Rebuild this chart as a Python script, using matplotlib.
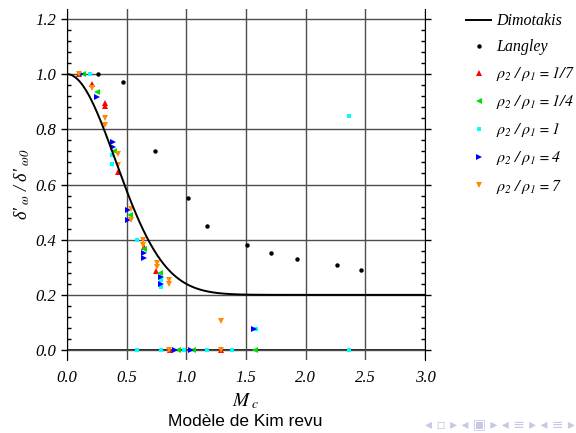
import numpy as np
import matplotlib
matplotlib.use('Agg')
import matplotlib.pyplot as plt
from matplotlib.ticker import MultipleLocator, FormatStrFormatter

plt.rcParams['font.family'] = ['Liberation Serif', 'DejaVu Serif']
plt.rcParams['font.style'] = 'italic'
plt.rcParams['mathtext.fontset'] = 'stix'

# Dimotakis correlation: 0.2 + 0.8 exp(-3 Mc^2)
dim_a = 0.2
dim_b = 0.8
dim_c = 3.0

# Langley data
lang_mc = [0.26, 0.47, 0.74, 1.01, 1.17, 1.51, 1.71, 1.93, 2.26, 2.46]
lang_d = [1.00, 0.97, 0.72, 0.55, 0.45, 0.38, 0.35, 0.33, 0.31, 0.29]

# rho2/rho1 = 1/7
r17_mc = [0.10, 0.21, 0.315, 0.32, 0.425, 0.645, 0.745, 0.863, 1.288]
r17_d = [1.00, 0.965, 0.885, 0.895, 0.646, 0.375, 0.288, 0.0, 0.0]

# rho2/rho1 = 1/4
r14_mc = [0.13, 0.254, 0.39, 0.528, 0.645, 0.78, 0.933, 1.06, 1.576]
r14_d = [1.00, 0.936, 0.72, 0.49, 0.368, 0.278, 0.0, 0.0, 0.0]

# rho2/rho1 = 1
r1_mc = [0.19, 0.38, 0.38, 0.584, 0.785, 0.785, 2.366, 1.58,
         0.584, 0.785, 0.98, 1.176, 1.38, 2.366]
r1_d = [1.00, 0.707, 0.676, 0.398, 0.254, 0.229, 0.849, 0.075,
        0.0, 0.0, 0.0, 0.0, 0.0, 0.0]

# rho2/rho1 = 4
r4_mc = [0.12, 0.254, 0.388, 0.383, 0.514, 0.514, 0.645, 0.645,
         0.785, 0.785, 1.57, 0.905, 1.037]
r4_d = [1.00, 0.916, 0.755, 0.737, 0.507, 0.473, 0.35, 0.332,
        0.266, 0.241, 0.075, 0.0, 0.0]

# rho2/rho1 = 7
r7_mc = [0.10, 0.21, 0.318, 0.318, 0.43, 0.425, 0.534, 0.534, 0.64, 0.64,
         0.752, 0.752, 0.858, 0.858, 1.29, 0.858, 1.288]
r7_d = [1.00, 0.95, 0.84, 0.815, 0.712, 0.67, 0.51, 0.471, 0.40, 0.38,
        0.314, 0.302, 0.254, 0.241, 0.106, 0.0, 0.0]

fig = plt.figure(figsize=(5.76, 4.33), dpi=100)
ax = fig.add_axes([0.1163, 0.1686, 0.6215, 0.8106])

x = np.linspace(0, 3, 400)
ax.plot(x, dim_a + dim_b * np.exp(-dim_c * x**2), color='black', lw=1.4,
        label='Dimotakis', zorder=4)
ax.plot(lang_mc, lang_d, 'o', color='black', ms=3.2, mew=0, label='Langley', zorder=5)
ax.plot(r17_mc, r17_d, '^', color='#ff0000', ms=4, mew=0,
        label=r'$\rho_2\;/\;\rho_1 = \mathit{1/7}$', zorder=3)
ax.plot(r14_mc, r14_d, '<', color='#00e000', ms=4, mew=0,
        label=r'$\rho_2\;/\;\rho_1 = \mathit{1/4}$', zorder=3)
ax.plot(r1_mc, r1_d, 's', color='#00ffff', ms=3.5, mew=0,
        label=r'$\rho_2\;/\;\rho_1 = \mathit{1}$', zorder=3)
ax.plot(r4_mc, r4_d, '>', color='#0000ff', ms=4, mew=0,
        label=r'$\rho_2\;/\;\rho_1 = \mathit{4}$', zorder=3)
ax.plot(r7_mc, r7_d, 'v', color='#ff8c00', ms=4, mew=0,
        label=r'$\rho_2\;/\;\rho_1 = \mathit{7}$', zorder=3)

ax.set_xlim(0, 3.0)
ax.set_ylim(-0.036, 1.236)
ax.xaxis.set_major_locator(MultipleLocator(0.5))
ax.yaxis.set_minor_locator(MultipleLocator(0.04))
ax.set_yticks(np.arange(0, 1.21, 0.2))
ax.xaxis.set_major_formatter(FormatStrFormatter('%.1f'))
ax.yaxis.set_major_formatter(FormatStrFormatter('%.1f'))
ax.spines['top'].set_visible(False)
ax.spines['bottom'].set_visible(False)
ax.grid(True, which='major', color='0.3', lw=1.0)
ax.axhline(0, color='black', lw=1.2, zorder=1)
ax.tick_params(axis='x', length=0, pad=7, labelsize=12)
ax.tick_params(axis='y', which='major', direction='out', length=4, width=1,
               left=True, right=True, labelsize=12, pad=4)
ax.tick_params(axis='y', which='minor', direction='in', length=3, width=1,
               left=True, right=True)

ax.set_xlabel(r'$M_{\ c}$', fontsize=14, labelpad=4)
ax.set_ylabel(r"δ'$_{\ \omega}$ / δ'$_{\ \omega 0}$", fontsize=13, labelpad=2)

leg = ax.legend(loc='upper left', bbox_to_anchor=(0.795, 0.988),
                bbox_transform=fig.transFigure, frameon=False, fontsize=11.5,
                handlelength=1.6, handletextpad=0.3, labelspacing=0.63,
                borderpad=0, numpoints=1)

fig.text(0.425, 0.016, 'Modèle de Kim revu', ha='center', va='baseline',
         fontsize=12.5, family=['Liberation Sans', 'DejaVu Sans'], style='normal')
fig.text(0.998, 0.012, '◂ ▫ ▸ ◂ ▣ ▸ ◂ ≡ ▸ ◂ ≡ ▸', ha='right', va='baseline',
         fontsize=10, color='#c5c8e6', family='DejaVu Sans', style='normal')

fig.savefig('out.png', dpi=100)
